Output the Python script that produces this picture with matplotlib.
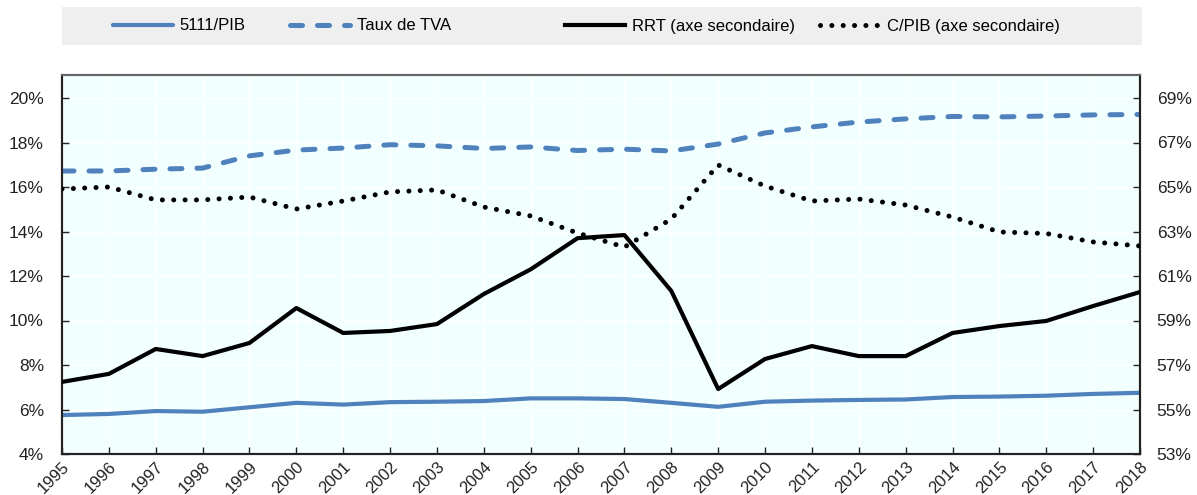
import matplotlib
matplotlib.use("Agg")
import matplotlib.pyplot as plt
from matplotlib.patches import Rectangle
from matplotlib.ticker import FuncFormatter, MultipleLocator

years = list(range(1995, 2019))
pib5111 = [5.75, 5.8, 5.93, 5.9, 6.1, 6.3, 6.22, 6.33, 6.35, 6.38, 6.5, 6.5,
           6.47, 6.3, 6.12, 6.35, 6.4, 6.43, 6.45, 6.56, 6.58, 6.62, 6.7, 6.75]
tva = [16.72, 16.72, 16.8, 16.85, 17.4, 17.66, 17.75, 17.9, 17.85, 17.73, 17.8, 17.64,
       17.7, 17.62, 17.93, 18.43, 18.7, 18.92, 19.06, 19.17, 19.15, 19.19, 19.24, 19.26]
rrt = [56.24, 56.6, 57.72, 57.4, 57.99, 59.56, 58.44, 58.53, 58.84, 60.19, 61.3, 62.7,
       62.84, 60.33, 55.92, 57.27, 57.85, 57.4, 57.4, 58.44, 58.75, 58.98, 59.65, 60.28]
cpib = [64.91, 65.0, 64.42, 64.42, 64.55, 64.01, 64.37, 64.78, 64.87, 64.1, 63.7, 62.93,
        62.3, 63.56, 65.99, 65.04, 64.37, 64.46, 64.19, 63.65, 62.98, 62.91, 62.53, 62.35]
labels = ["5111/PIB", "Taux de TVA", "RRT (axe secondaire)", "C/PIB (axe secondaire)"]

plt.rcParams["font.family"] = ["Liberation Sans", "DejaVu Sans"]

BLUE = "#4F81BD"
fig = plt.figure(figsize=(11.97, 4.95), dpi=100)
ax = fig.add_axes([62/1197, 41/495, (1140-62)/1197, (454-75)/495])
ax.set_facecolor("#F2FFFF")
ax2 = ax.twinx()

l1, = ax.plot(years, pib5111, color=BLUE, lw=3.0, solid_capstyle="round", zorder=3)
l2, = ax.plot(years, tva, color=BLUE, lw=3.6, linestyle=(0, (2.4, 3.0)),
              dash_capstyle="round", zorder=3)
l3, = ax2.plot(years, rrt, color="black", lw=3.0, zorder=3)
l4, = ax2.plot(years, cpib, color="black", lw=3.6, linestyle=(0, (0.01, 2.26)),
               dash_capstyle="round", zorder=3)

top = 4 + (454 - 75) / 22.25
ax.set_ylim(4, top)
ax2.set_ylim(53, 53 + (top - 4))
ax.set_xlim(1995, 2018)
ax.yaxis.set_major_locator(MultipleLocator(2))
ax2.set_yticks(range(53, 70, 2))
pct = FuncFormatter(lambda v, p: f"{v:.0f}%")
ax.yaxis.set_major_formatter(pct)
ax2.yaxis.set_major_formatter(pct)
ax.set_xticks(years)
ax.set_xticklabels([str(y) for y in years], rotation=45, ha="right", rotation_mode="anchor")

ax.grid(True, color="white", lw=1.0, zorder=0)
ax.set_axisbelow(True)
for a in (ax, ax2):
    a.tick_params(direction="in", length=5, width=1, labelsize=12.5, colors="#222222")
    for s in ("left", "right", "bottom"):
        a.spines[s].set_color("#222222")
        a.spines[s].set_linewidth(1.5)
    a.spines["top"].set_color("#666666")
    a.spines["top"].set_linewidth(1.5)
ax.tick_params(axis="x", pad=4, labelsize=12)
ax.tick_params(axis="y", pad=13)
ax2.tick_params(axis="y", pad=12)

fig.patches.append(Rectangle((62/1197, (495-45)/495), (1142-62)/1197, 38/495,
                             transform=fig.transFigure, facecolor="#EFEFEF",
                             edgecolor="none", zorder=0))
starts = [113, 290, 565, 820]
for h, lab, x0 in zip([l1, l2, l3, l4], labels, starts):
    fig.legend([h], [lab], loc="center left",
               bbox_to_anchor=(x0/1197, (495-26)/495), frameon=False,
               fontsize=12, handlelength=3.6, handletextpad=0.4,
               borderpad=0, borderaxespad=0)

fig.savefig("out.png", dpi=100)
